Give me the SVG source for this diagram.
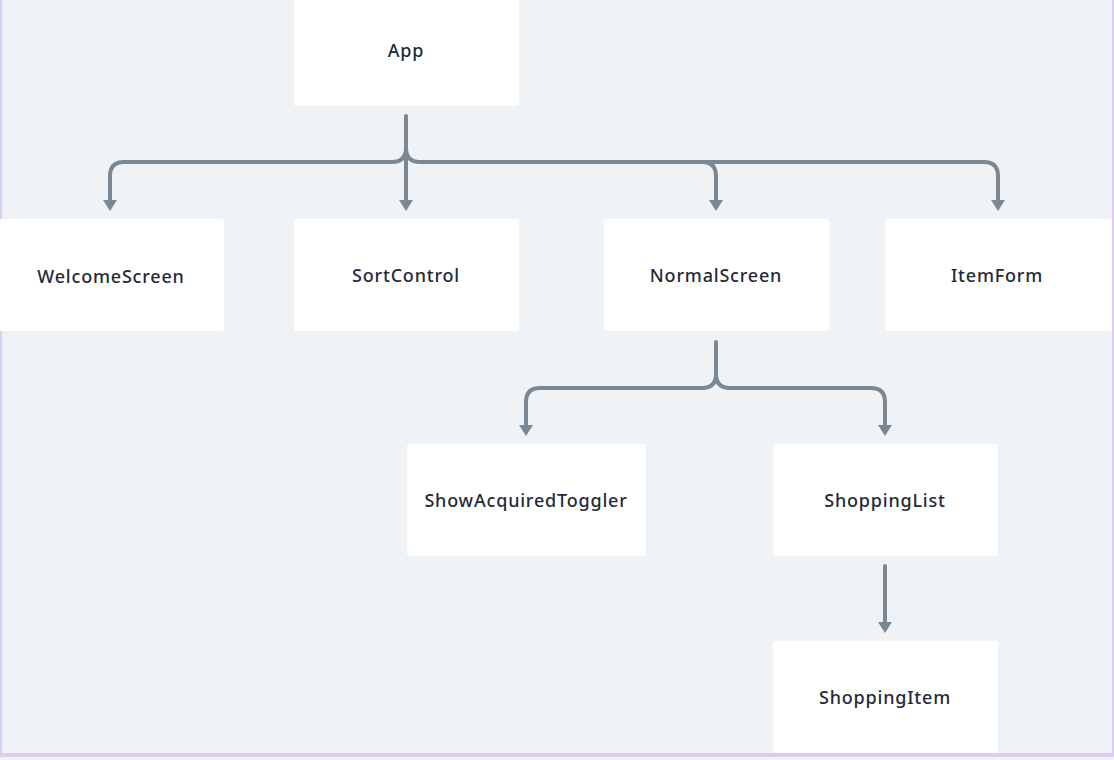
<svg xmlns="http://www.w3.org/2000/svg" width="1114" height="760" viewBox="0 0 1114 760">
<defs>
<style>
.node rect{fill:#ffffff;}
.node text{font-family:"Noto Sans","Liberation Sans",sans-serif;font-size:18px;font-weight:500;letter-spacing:0.8px;fill:#1f2b38;text-anchor:middle;dominant-baseline:central;}
.edge2{fill:none;stroke:#7a8894;stroke-width:4;stroke-linecap:round;}
</style>
</defs>
<rect x="0" y="0" width="1114" height="760" fill="#eff3f6"/>
<rect x="0" y="0" width="2" height="756" fill="#dccdf2"/>
<rect x="1112" y="0" width="2" height="756" fill="#dccdf2"/>
<rect x="0" y="753" width="1114" height="4" fill="#dccdf2"/>
<g id="connectors">
<path class="edge2" d="M406,116 V148 Q406,162 392,162 H124 Q110,162 110,176 V200"/>
<path class="edge2" d="M406,148 Q406,162 420,162 H984 Q998,162 998,176 V200"/>
<path class="edge2" d="M406,148 V200"/>
<path class="edge2" d="M702,162 Q716,162 716,176 V200"/>
<path class="edge2" d="M716,342 V374 Q716,388 702,388 H540 Q526,388 526,402 V426"/>
<path class="edge2" d="M716,374 Q716,388 730,388 H871 Q885,388 885,402 V426"/>
<path class="edge2" d="M885,566 V623"/>
<g fill="#7a8894">
<path d="M103,200 H117 L110,211 Z"/>
<path d="M399,200 H413 L406,211 Z"/>
<path d="M709,200 H723 L716,211 Z"/>
<path d="M991,200 H1005 L998,211 Z"/>
<path d="M519,425 H533 L526,436 Z"/>
<path d="M878,425 H892 L885,436 Z"/>
<path d="M878,622 H892 L885,633 Z"/>
</g>
</g>
<g id="App" class="node"><rect x="294" y="-6" width="225" height="112" rx="3"/><text x="406" y="50">App</text></g>
<g id="WelcomeScreen" class="node"><rect x="-2" y="219" width="226" height="112" rx="3"/><text x="111" y="276">WelcomeScreen</text></g>
<g id="SortControl" class="node"><rect x="294" y="219" width="225" height="112" rx="3"/><text x="406" y="275">SortControl</text></g>
<g id="NormalScreen" class="node"><rect x="604" y="219" width="225" height="112" rx="3"/><text x="716" y="275">NormalScreen</text></g>
<g id="ItemForm" class="node"><rect x="885" y="219" width="227" height="112" rx="3"/><text x="997" y="275">ItemForm</text></g>
<g id="ShowAcquiredToggler" class="node"><rect x="407" y="444" width="239" height="112" rx="3"/><text x="526" y="500">ShowAcquiredToggler</text></g>
<g id="ShoppingList" class="node"><rect x="773" y="444" width="225" height="112" rx="3"/><text x="885" y="500">ShoppingList</text></g>
<g id="ShoppingItem" class="node"><rect x="773" y="641" width="225" height="112" rx="3"/><text x="885" y="697">ShoppingItem</text></g>
</svg>
